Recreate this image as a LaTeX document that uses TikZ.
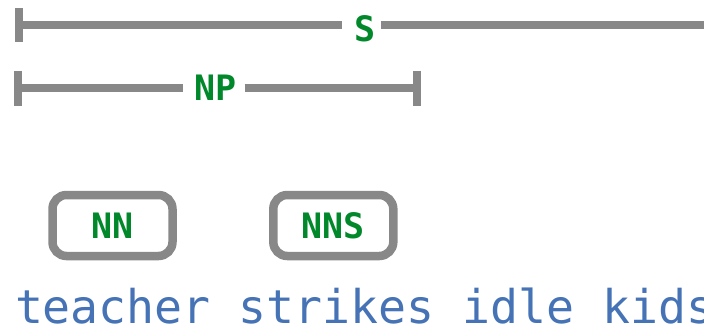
\documentclass[tikz,border=0pt]{standalone}
\usepackage{fontspec}
\newfontfamily\dmono{DejaVu Sans Mono}
\definecolor{barg}{HTML}{888888}
\definecolor{tagg}{HTML}{00882B}
\definecolor{wordb}{HTML}{4573B5}
\tikzset{
  spanbar/.style={draw=barg, line width=8pt, line cap=butt},
  spantick/.style={draw=barg, line width=8pt, line cap=butt},
  spanlab/.style={inner ysep=0pt, text=tagg, fill=white, anchor=base,
    font=\dmono\bfseries\fontsize{35}{35}\selectfont},
  tagbox/.style={draw=barg, line width=8.5pt, rounded corners=14pt,
    minimum width=120pt, minimum height=61pt, inner sep=0pt, text=tagg,
    font=\dmono\bfseries\fontsize{35}{35}\selectfont},
  words/.style={inner sep=0pt, text=wordb, anchor=base west,
    font=\dmono\fontsize{46.5}{46.5}\selectfont}
}
\begin{document}
\begin{tikzpicture}[x=1pt,y=-1pt]
\useasboundingbox (0,0) rectangle (704,330);
% S span
\coordinate (sL) at (19,25);
\coordinate (sR) at (711,25);
\node[spanlab, inner xsep=5pt] (slab) at (361.7,41.5) {\hspace*{7pt}S};
\draw[spanbar] (sL) -- (slab.west |- sL);
\draw[spanbar] (slab.east |- sL) -- (sR);
\draw[spantick] (sL) ++(0,-17) -- ++(0,34);
\draw[spantick] (sR) ++(0,-17) -- ++(0,34);
% NP span
\coordinate (npL) at (18,88);
\coordinate (npR) at (417,88);
\node[spanlab, inner xsep=7.8pt] (nplab) at (213.8,100) {\hspace*{3.4pt}NP};
\draw[spanbar] (npL) -- (nplab.west |- npL);
\draw[spanbar] (nplab.east |- npL) -- (npR);
\draw[spantick] (npL) ++(0,-17.5) -- ++(0,35);
\draw[spantick] (npR) ++(0,-17.5) -- ++(0,35);
% tags
\node[tagbox] (nn) at (112.5,225.5) {NN};
\node[tagbox] (nns) at (333.3,225.5) {NNS};
% words
\node[words] (sent) at (14.8,323) {teacher strikes idle kids};
\end{tikzpicture}
\end{document}
